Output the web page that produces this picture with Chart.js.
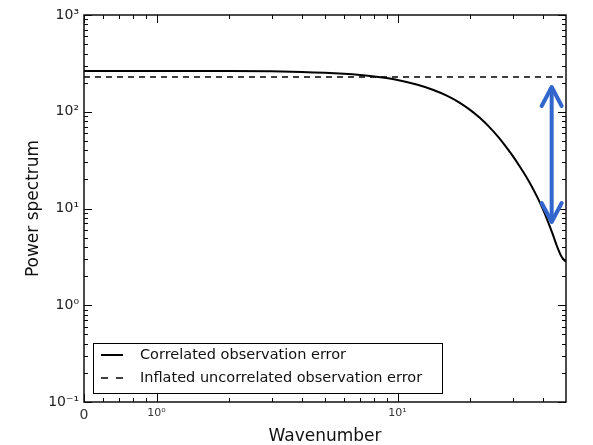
<!DOCTYPE html>
<html><head><meta charset="utf-8">
<script src="https://cdn.jsdelivr.net/npm/chart.js@4"></script>
<style>html,body{margin:0;padding:0;background:#fff}canvas{display:block}</style>
</head><body>
<canvas id="c" width="593" height="445"></canvas>
<script>
// ---- data ----
const waveNumbers     = [0.5, 1, 2, 3, 4, 5, 6, 7, 8, 9, 10, 12, 14, 16, 18, 20, 22, 24, 26, 28, 30, 32, 34, 36, 38, 40, 42, 44, 46, 48, 50];
const correlatedPower = [264, 264, 263.8, 261.8, 258.1, 253, 246.6, 239.5, 231.7, 222.8, 212.9, 191, 168.8, 146.7, 125.1, 104.6, 86, 69.8, 56, 44.5, 35.2, 27.7, 21.8, 17, 13.1, 9.95, 7.42, 5.46, 4.0, 3.15, 2.81];
const inflatedWaveNumbers = [0.5, 50];
const inflatedPower       = [229, 229];
const seriesLabels = ['Correlated observation error', 'Inflated uncorrelated observation error'];

const xMajorTicks  = [0.5, 1, 10];
const xMajorLabels = ['0', '10\u2070', '10\u00B9'];
const xMinorTicks  = [0.6, 0.7, 0.8, 0.9, 2, 3, 4, 5, 6, 7, 8, 9, 20, 30, 40];
const yMajorTicks  = [0.1, 1, 10, 100, 1000];
const yMajorLabels = ['10\u207B\u00B9', '10\u2070', '10\u00B9', '10\u00B2', '10\u00B3'];
const yMinorTicks  = [0.2,0.3,0.4,0.5,0.6,0.7,0.8,0.9, 2,3,4,5,6,7,8,9, 20,30,40,50,60,70,80,90, 200,300,400,500,600,700,800,900];

const arrowWaveNumber = 43.6;
const arrowLowPower   = 7.25;
const arrowHighPower  = 180;

// ---- helpers ----
function buildTicks(majors, minors) {
  return scale => {
    scale.ticks = majors.concat(minors).sort((a, b) => a - b)
      .map(v => ({ value: v, major: majors.includes(v) }));
  };
}
function labelFor(majors, labels) {
  return v => { const i = majors.indexOf(v); return i >= 0 ? labels[i] : ''; };
}

const framePlugin = {
  id: 'frameTicks',
  afterDatasetsDraw(chart) {
    const { ctx, chartArea: a, scales: { x, y } } = chart;
    ctx.save();
    ctx.strokeStyle = '#000';
    ctx.lineWidth = 1;
    const seg = (x1, y1, x2, y2) => { ctx.beginPath(); ctx.moveTo(x1, y1); ctx.lineTo(x2, y2); ctx.stroke(); };
    x.ticks.forEach(t => {
      const px = Math.round(x.getPixelForValue(t.value)) + 0.5;
      const len = t.major ? 8 : 4;
      seg(px, a.bottom, px, a.bottom - len);
      seg(px, a.top, px, a.top + len);
    });
    y.ticks.forEach(t => {
      const py = Math.round(y.getPixelForValue(t.value)) + 0.5;
      const len = t.major ? 8 : 4;
      seg(a.left, py, a.left + len, py);
      seg(a.right, py, a.right - len, py);
    });
    ctx.lineWidth = 1.5;
    ctx.strokeStyle = '#111';
    ctx.strokeRect(a.left, a.top, a.right - a.left, a.bottom - a.top);

    // legend (lower left, inside)
    const bx = a.left + 9, bw = 349, bh = 50, by = a.bottom - 59;
    ctx.fillStyle = '#fff';
    ctx.fillRect(bx, by, bw, bh);
    ctx.lineWidth = 1;
    ctx.strokeStyle = '#000';
    ctx.strokeRect(bx + 0.5, by + 0.5, bw, bh);
    ctx.font = '14.5px "DejaVu Sans"';
    ctx.textBaseline = 'middle';
    chart.data.datasets.forEach((ds, i) => {
      const ly = by + 12 + i * 23;
      ctx.strokeStyle = ds.borderColor;
      ctx.lineWidth = ds.borderWidth;
      ctx.setLineDash(ds.borderDash ? [7, 8] : []);
      seg(bx + 8, ly, bx + 30, ly);
      ctx.setLineDash([]);
      ctx.fillStyle = '#111';
      ctx.fillText(ds.label, bx + 47, ly);
    });

    // blue double arrow
    const ax = x.getPixelForValue(arrowWaveNumber);
    const y1 = y.getPixelForValue(arrowHighPower);
    const y2 = y.getPixelForValue(arrowLowPower);
    ctx.strokeStyle = '#3366CC';
    ctx.lineWidth = 4;
    ctx.lineCap = 'round';
    ctx.lineJoin = 'round';
    seg(ax, y1 + 2, ax, y2 - 2);
    ctx.beginPath(); ctx.moveTo(ax - 10, y1 + 19); ctx.lineTo(ax, y1); ctx.lineTo(ax + 10, y1 + 19); ctx.stroke();
    ctx.beginPath(); ctx.moveTo(ax - 10, y2 - 19); ctx.lineTo(ax, y2); ctx.lineTo(ax + 10, y2 - 19); ctx.stroke();
    ctx.restore();
  }
};

new Chart(document.getElementById('c'), {
  type: 'line',
  data: {
    datasets: [
      {
        label: seriesLabels[0],
        data: waveNumbers.map((k, i) => ({ x: k, y: correlatedPower[i] })),
        borderColor: '#000', borderWidth: 2, pointRadius: 0,
        cubicInterpolationMode: 'monotone', fill: false
      },
      {
        label: seriesLabels[1],
        data: inflatedWaveNumbers.map((k, i) => ({ x: k, y: inflatedPower[i] })),
        borderColor: '#000', borderWidth: 1.6, borderDash: [6, 5], pointRadius: 0, fill: false
      }
    ]
  },
  options: {
    responsive: false,
    animation: false,
    devicePixelRatio: 1,
    layout: { padding: { left: 0, right: 27, top: 15, bottom: 0 } },
    plugins: { legend: { display: false }, tooltip: { enabled: false } },
    scales: {
      x: {
        type: 'logarithmic', min: 0.5, max: 50,
        afterBuildTicks: buildTicks(xMajorTicks, xMinorTicks),
        afterFit: s => { s.height = 43; },
        grid: { display: false, drawTicks: false },
        border: { display: false },
        ticks: {
          autoSkip: false, maxRotation: 0, padding: 5, color: '#333',
          font: ctx => ({ family: 'DejaVu Sans', size: (ctx.tick && ctx.tick.value === 0.5) ? 14 : 11 }),
          callback: labelFor(xMajorTicks, xMajorLabels)
        },
        title: {
          display: true, text: 'Wavenumber', color: '#111',
          font: { family: 'DejaVu Sans', size: 17 },
          padding: { top: 0, bottom: -2 }
        }
      },
      y: {
        type: 'logarithmic', min: 0.1, max: 1000,
        afterBuildTicks: buildTicks(yMajorTicks, yMinorTicks),
        afterFit: s => { s.width = 84; },
        grid: { display: false, drawTicks: false },
        border: { display: false },
        ticks: {
          autoSkip: false, padding: 5, color: '#222',
          font: { family: 'DejaVu Sans', size: 14 },
          callback: labelFor(yMajorTicks, yMajorLabels)
        },
        title: {
          display: true, text: 'Power spectrum', color: '#111',
          font: { family: 'DejaVu Sans', size: 17 },
          padding: { top: 23, bottom: 0 }
        }
      }
    }
  },
  plugins: [framePlugin]
});
</script>
</body></html>
